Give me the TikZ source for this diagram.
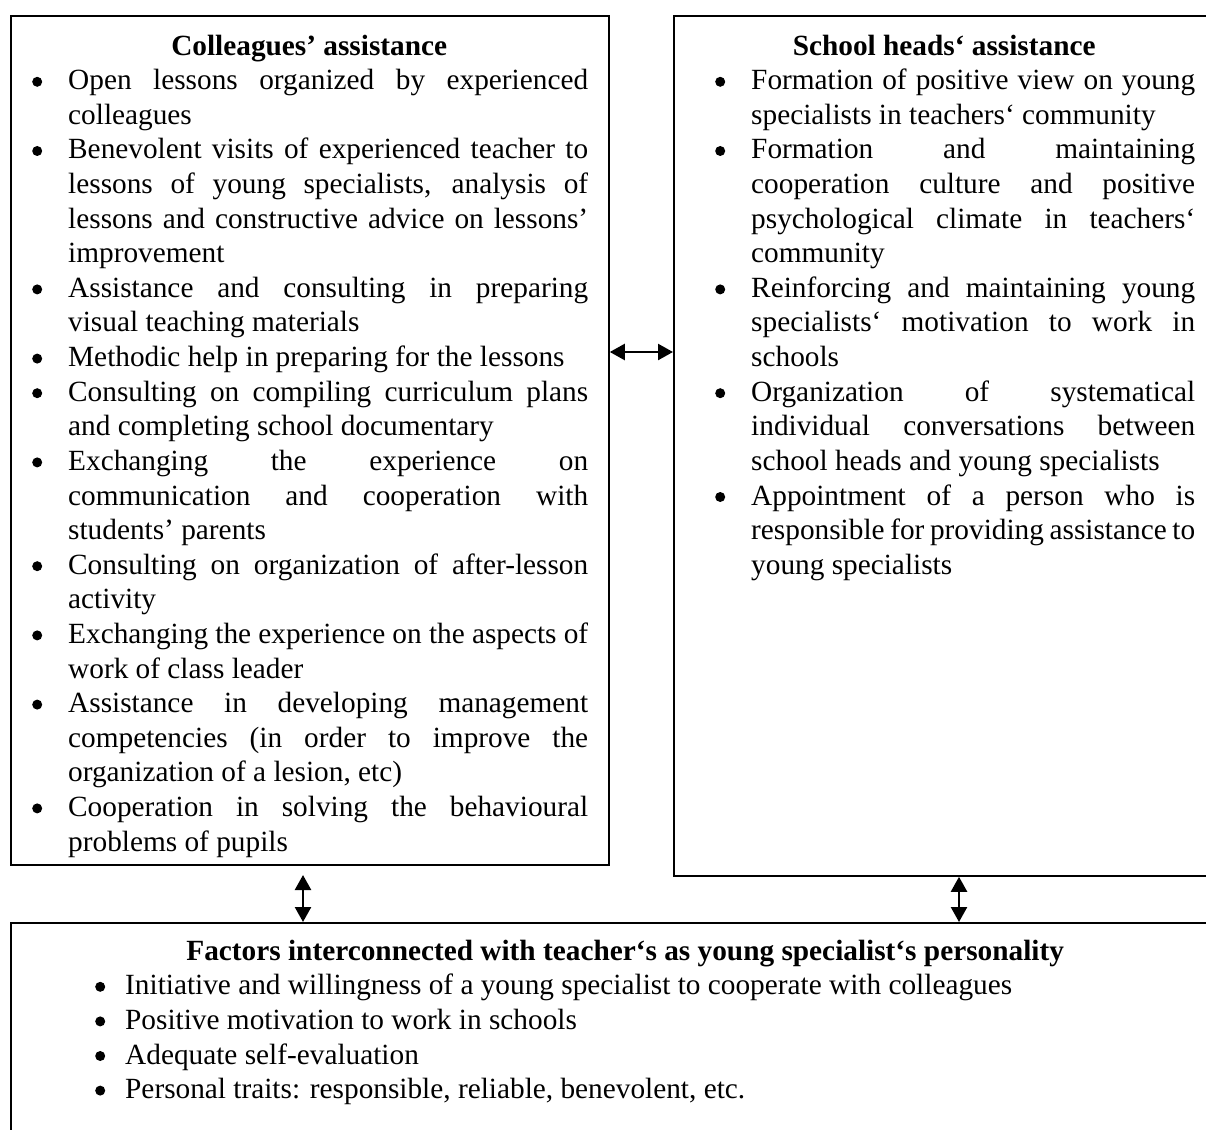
\documentclass[tikz,border=0pt]{standalone}
\usepackage{fontspec}
\setmainfont{Liberation Serif}
\usetikzlibrary{arrows.meta}
\newcommand\fs{\fontsize{29.3pt}{34.6pt}\selectfont}
\newcommand\jl[1]{\leavevmode\hbox to\linewidth{#1}\\}
\newcommand\bul{\tikz[x=1pt,y=1pt,baseline=0pt]\fill[black] (0,8) circle (5pt);}
\newenvironment{blist}[2]{\begin{list}{\llap{\bul\hspace{#2}}}{%
  \setlength\leftmargin{#1}\setlength\labelwidth{0pt}\setlength\labelsep{0pt}%
  \setlength\itemsep{0pt}\setlength\parsep{0pt}\setlength\topsep{0pt}%
  \setlength\partopsep{0pt}\setlength\itemindent{0pt}\setlength\listparindent{0pt}}}{\end{list}}
\begin{document}
\begin{tikzpicture}[x=1pt,y=-1pt,
  box/.style={draw, line width=1.8pt, rectangle, inner sep=0pt, anchor=north west},
  txt/.style={anchor=north west, inner sep=0pt},
  link/.style={line width=2.4pt, {Triangle[length=15pt,width=16pt]}-{Triangle[length=15pt,width=16pt]}}]
\fill[white] (0,0) rectangle (1206,1129);
\useasboundingbox (0,0) rectangle (1206,1129);
\clip (0,0) rectangle (1206,1129);
\node[box, minimum width=598pt, minimum height=849pt] (lbox) at (10,15) {};
\node[box, minimum width=542pt, minimum height=860pt] (rbox) at (673,15) {};
\node[box, minimum width=1230pt, minimum height=260pt] (bbox) at (10,922) {};
\node[txt] (ltext) at ([shift={(20,15)}]lbox.north west) {\begin{minipage}[t]{558pt}\fs
{\centering\bfseries\rule{0pt}{25pt}Colleagues’ assistance\par}
\begin{blist}{38pt}{26pt}
\item \jl{Open lessons organized by experienced}colleagues
\item \jl{Benevolent visits of experienced teacher to}\jl{lessons of young specialists, analysis of}\jl{lessons and constructive advice on lessons’}improvement
\item \jl{Assistance and consulting in preparing}visual teaching materials
\item Methodic help in preparing for the lessons
\item \jl{Consulting on compiling curriculum plans}and completing school documentary
\item \jl{Exchanging the experience on}\jl{communication and cooperation with}students’ parents
\item \jl{Consulting on organization of after-lesson}activity
\item \jl{Exchanging the experience on the aspects of}work of class leader
\item \jl{Assistance in developing management}\jl{competencies (in order to improve the}organization of a lesion, etc)
\item \jl{Cooperation in solving the behavioural}problems of pupils
\end{blist}
\end{minipage}};
\node[txt] (rtext) at ([shift={(20,15)}]rbox.north west) {\begin{minipage}[t]{502pt}\fs
{\centering\bfseries\rule{0pt}{25pt}School heads‘ assistance\par}
\begin{blist}{58pt}{26pt}
\item \jl{Formation of positive view on young}specialists in teachers‘ community
\item \jl{Formation and maintaining}\jl{cooperation culture and positive}\jl{psychological climate in teachers‘}community
\item \jl{Reinforcing and maintaining young}\jl{specialists‘ motivation to work in}schools
\item \jl{Organization of systematical}\jl{individual conversations between}school heads and young specialists
\item \jl{Appointment of a person who is}\jl{responsible for providing assistance to}young specialists
\end{blist}
\end{minipage}};
\node[txt] (btext) at ([shift={(20,13)}]bbox.north west) {\begin{minipage}[t]{1190pt}\fs
{\centering\bfseries\rule{0pt}{25pt}Factors interconnected with teacher‘s as young specialist‘s personality\par}
\begin{blist}{95pt}{20pt}
\item Initiative and willingness of a young specialist to cooperate with colleagues
\item Positive motivation to work in schools
\item Adequate self-evaluation
\item Personal traits: responsible, reliable, benevolent, etc.
\end{blist}
\end{minipage}};
\coordinate (hy) at (0,352);
\coordinate (lx) at (303,875);
\coordinate (rx) at (959,0);
\draw[link] (lbox.east |- hy) -- (rbox.west |- hy);
\draw[link] (lx) -- (lx |- bbox.north);
\draw[link] (rbox.south -| rx) -- (bbox.north -| rx);
\end{tikzpicture}
\end{document}
